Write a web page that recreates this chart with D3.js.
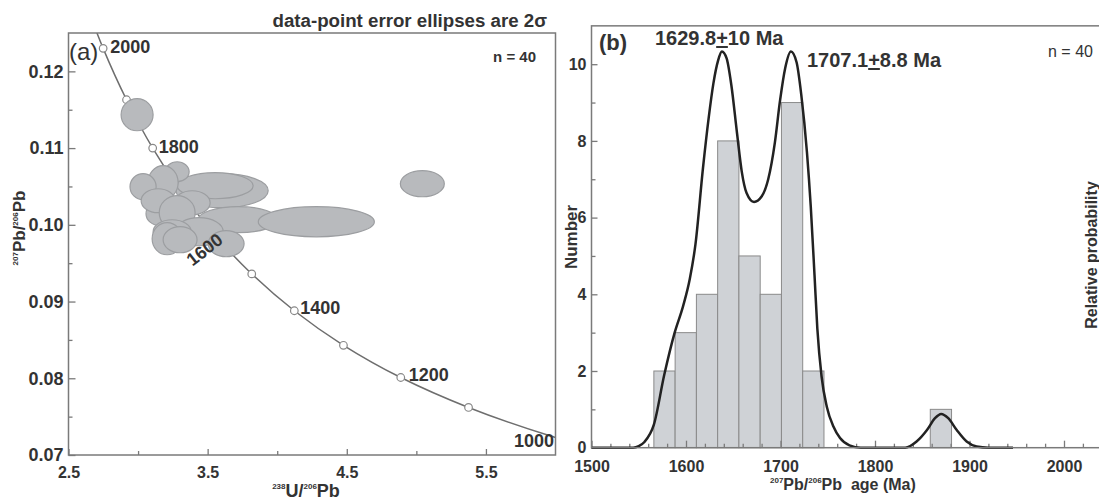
<!DOCTYPE html>
<html>
<head>
<meta charset="utf-8">
<script src="https://cdn.jsdelivr.net/npm/d3@7"></script>
<style>
  html, body { margin: 0; padding: 0; background: #fff; }
  svg { display: block; }
  text { font-family: "Liberation Sans", Arial, sans-serif; }
</style>
</head>
<body>
<script>
// ---------------- DATA ----------------
// Panel (a): Tera-Wasserburg concordia reference points (age Ma, 238U/206Pb, 207Pb/206Pb)
const concAge = [2100, 2000, 1900, 1800, 1700, 1600, 1500, 1400, 1300, 1200, 1100, 1000, 900];
const concX   = [2.597, 2.749, 2.917, 3.105, 3.314, 3.550, 3.817, 4.123, 4.476, 4.888, 5.375, 5.960, 6.674];
const concY   = [0.1302, 0.1230, 0.1163, 0.1100, 0.1042, 0.0987, 0.0936, 0.0888, 0.0843, 0.0801, 0.0762, 0.0725, 0.0690];
const markerAges = [2000, 1900, 1800, 1700, 1600, 1500, 1400, 1300, 1200, 1100];
const labelAges  = [2000, 1800, 1600, 1400, 1200, 1000];

// Error ellipses: centre (x, y) and half-axes (rx, ry) in data units
const ellX  = [3.604, 3.554, 3.719, 4.281, 5.043, 2.993, 3.281, 3.180, 3.036, 3.389, 3.158, 3.144, 3.281, 3.439, 3.633, 3.245, 3.209, 3.302];
const ellY  = [0.10445, 0.1051, 0.10067, 0.1004, 0.10536, 0.11435, 0.10692, 0.1055, 0.10497, 0.10288, 0.10145, 0.10314, 0.10158, 0.0991, 0.09754, 0.0991, 0.09819, 0.09806];
const ellRx = [0.331, 0.273, 0.288, 0.417, 0.158, 0.115, 0.086, 0.108, 0.094, 0.129, 0.101, 0.122, 0.129, 0.173, 0.129, 0.137, 0.108, 0.122];
const ellRy = [0.00222, 0.0017, 0.0017, 0.00196, 0.0017, 0.00209, 0.0013, 0.00222, 0.0017, 0.00156, 0.00156, 0.00156, 0.00222, 0.00183, 0.0017, 0.00156, 0.00209, 0.0017];

const aXTicks = [2.5, 3.5, 4.5, 5.5];
const aXMinor = [3.0, 4.0, 5.0];
const aYTicks = [0.07, 0.08, 0.09, 0.10, 0.11, 0.12];
const aYMinor = [0.075, 0.085, 0.095, 0.105, 0.115];

// Panel (b): histogram of 207Pb/206Pb ages
const binStart = [1566, 1588.5, 1611, 1633.5, 1656, 1678.5, 1701, 1723.5, 1858.5];
const binWidth = 22.5;
const binCount = [2, 3, 4, 8, 5, 4, 9, 2, 1];

// Relative probability curve (age Ma, value in Number units)
const pdfAge = [1500, 1544, 1550, 1556, 1566, 1577, 1588, 1597, 1604, 1610, 1618, 1624, 1629, 1634, 1638, 1643, 1648, 1654, 1659, 1664, 1672, 1680, 1687, 1694, 1699.5, 1705, 1711, 1717, 1722, 1728, 1732, 1736, 1739, 1743.5, 1749, 1756, 1763, 1773, 1785, 1832, 1844, 1855, 1863.5, 1870, 1877.5, 1886.5, 1897, 1907.5, 1920, 1946];
const pdfVal = [0, 0, 0.04, 0.15, 0.6, 1.9, 3.0, 3.7, 4.4, 5.3, 7.3, 8.6, 9.5, 10.1, 10.33, 10.15, 9.45, 8.2, 7.2, 6.65, 6.41, 6.55, 7.0, 7.95, 9.05, 9.9, 10.33, 10.05, 9.2, 7.7, 6.3, 4.5, 3.1, 1.85, 1.07, 0.55, 0.25, 0.06, 0, 0, 0.16, 0.46, 0.77, 0.88, 0.77, 0.46, 0.16, 0.03, 0, 0];

const bXTicks = [1500, 1600, 1700, 1800, 1900, 2000];
const bXMinor = d3.range(1520, 2100, 20).filter(d => d % 100 !== 0);
const bYTicks = [0, 2, 4, 6, 8, 10];
const bYMinor = [1, 3, 5, 7, 9];

// ---------------- DRAWING ----------------
const W = 1099, H = 500;
const svg = d3.select("body").append("svg").attr("width", W).attr("height", H);
const frameCol = "#7a7a7a";
const txtCol = "#333";

// ===== Panel (a) =====
const xA = d3.scaleLinear().domain([2.5, 6.0]).range([68.5, 555.5]);
const yA = d3.scaleLinear().domain([0.07, 0.125]).range([455, 33]);

svg.append("clipPath").attr("id", "clipA").append("rect")
  .attr("x", xA(2.5)).attr("y", yA(0.125))
  .attr("width", xA(6.0) - xA(2.5)).attr("height", yA(0.07) - yA(0.125));

const gA = svg.append("g");
const plotA = gA.append("g").attr("clip-path", "url(#clipA)");

// concordia curve
const conc = concAge.map((a, i) => ({age: a, x: concX[i], y: concY[i]}));
plotA.append("path")
  .datum(conc)
  .attr("fill", "none").attr("stroke", "#6e6e6e").attr("stroke-width", 1.5)
  .attr("d", d3.line().x(d => xA(d.x)).y(d => yA(d.y)).curve(d3.curveCatmullRom));

// markers
plotA.selectAll("circle.mk")
  .data(conc.filter(d => markerAges.includes(d.age)))
  .join("circle").attr("class", "mk")
  .attr("cx", d => xA(d.x)).attr("cy", d => yA(d.y)).attr("r", 3.8)
  .attr("fill", "#fff").attr("stroke", "#888").attr("stroke-width", 1.2);

// ellipses
const ells = ellX.map((x, i) => ({x, y: ellY[i], rx: ellRx[i], ry: ellRy[i]}));
plotA.selectAll("ellipse")
  .data(ells).join("ellipse")
  .attr("cx", d => xA(d.x)).attr("cy", d => yA(d.y))
  .attr("rx", d => xA(d.x + d.rx) - xA(d.x))
  .attr("ry", d => yA(d.y - d.ry) - yA(d.y))
  .attr("fill", "#b8babd").attr("stroke", "#9c9ea1").attr("stroke-width", 1.2);

// concordia labels
const labOff = {2000: [7, 5, 0], 1800: [6, 5, 0], 1600: [-10, 15, -38], 1400: [6, 3, 0], 1200: [8, 3, 0], 1000: [-36, 11, 0]};
labelAges.forEach(a => {
  const d = conc.find(c => c.age === a);
  const o = labOff[a];
  const px = xA(d.x) + o[0], py = yA(d.y) + o[1];
  const t = gA.append("text")
    .attr("font-size", 18).attr("font-weight", "bold").attr("fill", txtCol)
    .text(String(a));
  if (o[2] !== 0) {
    t.attr("text-anchor", "middle").attr("dominant-baseline", "central")
     .attr("transform", `translate(${px},${py}) rotate(${o[2]})`);
  } else {
    t.attr("x", px).attr("y", py);
  }
});

// axes (a)
function styleAxis(g) {
  g.select(".domain").remove();
  g.selectAll(".tick line").attr("stroke", frameCol).attr("stroke-width", 1.3);
  g.selectAll(".tick text").attr("fill", txtCol).attr("font-weight", "bold")
   .attr("font-family", "'Liberation Sans', Arial, sans-serif");
}
gA.append("g").attr("transform", `translate(0,${yA(0.07)})`)
  .call(d3.axisBottom(xA).tickValues(aXTicks).tickFormat(d3.format(".1f"))
        .tickSizeInner(-6).tickSizeOuter(0).tickPadding(12))
  .call(styleAxis).call(g => g.selectAll("text").attr("font-size", 16));
gA.append("g").attr("transform", `translate(0,${yA(0.07)})`)
  .call(d3.axisBottom(xA).tickValues(aXMinor).tickFormat("").tickSizeInner(-4).tickSizeOuter(0))
  .call(styleAxis);
gA.append("g").attr("transform", `translate(${xA(2.5)},0)`)
  .call(d3.axisLeft(yA).tickValues(aYTicks).tickFormat(d3.format(".2f"))
        .tickSizeInner(-7).tickSizeOuter(0).tickPadding(5))
  .call(styleAxis).call(g => g.selectAll("text").attr("font-size", 18));
gA.append("g").attr("transform", `translate(${xA(2.5)},0)`)
  .call(d3.axisLeft(yA).tickValues(aYMinor).tickFormat("").tickSizeInner(-4).tickSizeOuter(0))
  .call(styleAxis);

// frame (a)
gA.append("rect")
  .attr("x", xA(2.5)).attr("y", yA(0.125))
  .attr("width", xA(6.0) - xA(2.5)).attr("height", yA(0.07) - yA(0.125))
  .attr("fill", "none").attr("stroke", frameCol).attr("stroke-width", 1.5);

// texts (a)
gA.append("text").attr("x", 547).attr("y", 27).attr("text-anchor", "end")
  .attr("font-size", 18.7).attr("font-weight", "bold").attr("fill", txtCol)
  .text("data-point error ellipses are 2σ");
gA.append("text").attr("x", 69).attr("y", 60)
  .attr("font-size", 24).attr("fill", txtCol).text("(a)");
gA.append("text").attr("x", 536).attr("y", 62).attr("text-anchor", "end")
  .attr("font-size", 15).attr("font-weight", "bold").attr("fill", txtCol).text("n = 40");

function isoLabel(sel, parts, big, small) {
  let sup = false;
  parts.forEach(([t, s]) => {
    const ts = sel.append("tspan").text(t).attr("font-size", s ? small : big);
    if (s && !sup) ts.attr("dy", -big * 0.42);
    if (!s && sup) ts.attr("dy", big * 0.42);
    sup = s;
  });
}
const xlabA = gA.append("text").attr("x", 306).attr("y", 497).attr("text-anchor", "middle")
  .attr("font-weight", "bold").attr("fill", txtCol);
isoLabel(xlabA, [["238", true], ["U/", false], ["206", true], ["Pb", false]], 18, 8);

const ylabA = gA.append("text").attr("transform", "translate(25,228) rotate(-90)")
  .attr("text-anchor", "middle").attr("font-weight", "bold").attr("fill", txtCol);
isoLabel(ylabA, [["207", true], ["Pb/", false], ["206", true], ["Pb", false]], 17, 8);

// ===== Panel (b) =====
const xB = d3.scaleLinear().domain([1500, 2100]).range([591.5, 1158.5]);
const yB = d3.scaleLinear().domain([0, 11]).range([447.7, 25.85]);
const gB = svg.append("g");

// bars
const bars = binStart.map((s, i) => ({s, c: binCount[i]}));
gB.selectAll("rect.bar").data(bars).join("rect").attr("class", "bar")
  .attr("x", d => xB(d.s)).attr("width", d => xB(d.s + binWidth) - xB(d.s))
  .attr("y", d => yB(d.c)).attr("height", d => yB(0) - yB(d.c))
  .attr("fill", "#cfd2d6").attr("stroke", "#8a8a8a").attr("stroke-width", 1);

// axes (b)
gB.append("g").attr("transform", `translate(0,${yB(0)})`)
  .call(d3.axisBottom(xB).tickValues(bXTicks).tickFormat(d3.format("d"))
        .tickSizeInner(-7).tickSizeOuter(0).tickPadding(13))
  .call(styleAxis).call(g => g.selectAll("text").attr("font-size", 16));
gB.append("g").attr("transform", `translate(0,${yB(0)})`)
  .call(d3.axisBottom(xB).tickValues(bXMinor).tickFormat("").tickSizeInner(-4).tickSizeOuter(0))
  .call(styleAxis);
gB.append("g").attr("transform", `translate(${xB(1500)},0)`)
  .call(d3.axisLeft(yB).tickValues(bYTicks).tickFormat(d3.format("d"))
        .tickSizeInner(-6).tickSizeOuter(0).tickPadding(5))
  .call(styleAxis).call(g => g.selectAll("text").attr("font-size", 16));
gB.append("g").attr("transform", `translate(${xB(1500)},0)`)
  .call(d3.axisLeft(yB).tickValues(bYMinor).tickFormat("").tickSizeInner(-4).tickSizeOuter(0))
  .call(styleAxis);

// probability curve
const pdf = pdfAge.map((a, i) => ({a, v: pdfVal[i]}));
gB.append("path").datum(pdf)
  .attr("fill", "none").attr("stroke", "#222").attr("stroke-width", 2.5)
  .attr("stroke-linejoin", "round")
  .attr("d", d3.line().x(d => xB(d.a)).y(d => yB(d.v)).curve(d3.curveMonotoneX));

// frame (b)
gB.append("rect")
  .attr("x", xB(1500)).attr("y", yB(11))
  .attr("width", xB(2100) - xB(1500)).attr("height", yB(0) - yB(11))
  .attr("fill", "none").attr("stroke", frameCol).attr("stroke-width", 1.5);

// texts (b)
const calib = "Lato, 'Open Sans', sans-serif";
gB.append("text").attr("x", 599).attr("y", 50).attr("font-family", calib)
  .attr("font-size", 22).attr("font-weight", "bold").attr("fill", txtCol).text("(b)");

function ageLabel(x, y, a, b) {
  const t = gB.append("text").attr("x", x).attr("y", y).attr("font-family", calib)
    .attr("font-size", 20).attr("font-weight", "bold").attr("fill", txtCol);
  t.append("tspan").text(a);
  t.append("tspan").text("+").style("text-decoration", "underline");
  t.append("tspan").text(b);
}
ageLabel(655, 45, "1629.8", "10 Ma");
ageLabel(807, 67, "1707.1", "8.8 Ma");

gB.append("text").attr("x", 1048).attr("y", 57).attr("font-family", calib)
  .attr("font-size", 16).attr("fill", txtCol).text("n = 40");

gB.append("text").attr("transform", "translate(577,237) rotate(-90)")
  .attr("text-anchor", "middle").attr("font-size", 17).attr("font-weight", "bold")
  .attr("fill", txtCol).text("Number");
gB.append("text").attr("transform", "translate(1097,255) rotate(-90)")
  .attr("text-anchor", "middle").attr("font-size", 16).attr("font-weight", "bold")
  .attr("fill", txtCol).text("Relative probability");

const xlabB = gB.append("text").attr("x", 770).attr("y", 490)
  .attr("font-weight", "bold").attr("fill", txtCol);
isoLabel(xlabB, [["207", true], ["Pb/", false], ["206", true], ["Pb\u00a0\u00a0age (Ma)", false]], 16, 8);
</script>
</body>
</html>
